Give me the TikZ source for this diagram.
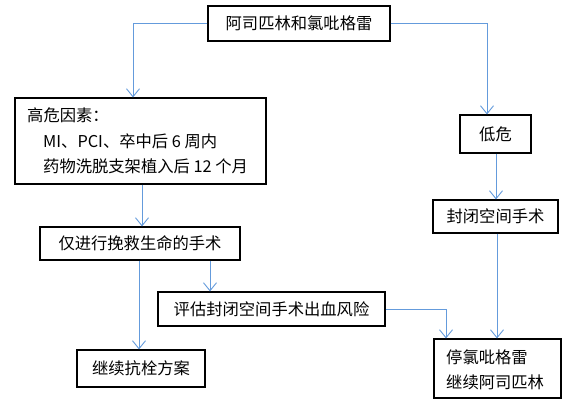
\documentclass[tikz,border=0pt]{standalone}
\usepackage{fontspec}
\newfontfamily\cjk{Noto Sans CJK SC}
\usetikzlibrary{arrows.meta}
\definecolor{conncol}{RGB}{100,155,220}
\tikzset{
  box/.style={draw=black, line width=1.1pt, inner sep=0pt, fill=white},
  txt/.style={font=\cjk\fontsize{16.3}{19}\selectfont, inner sep=0pt},
  conn/.style={draw=conncol, line width=0.9pt, -{Straight Barb[length=8pt,width=13pt,line width=0.9pt]}}
}
\begin{document}
\begin{tikzpicture}[x=1pt,y=-1pt]
\useasboundingbox (0,0) rectangle (583,402);
% boxes
\node[box, minimum width=182pt, minimum height=35pt] (top) at (299,23.5) {};
\node[txt] (toptxt) at (top.center) {阿司匹林和氯吡格雷};
\node[box, minimum width=251pt, minimum height=86pt] (high) at (140.5,141) {};
\node[txt, anchor=west] (h1) at (27,115) {高危因素：};
\node[txt, anchor=west] (h2) at (43,141) {MI、PCI、卒中后 6 周内};
\node[txt, anchor=west] (h3) at (43,166) {药物洗脱支架植入后 12 个月};
\node[box, minimum width=71pt, minimum height=38pt] (low) at (495.5,134) {};
\node[txt] (lowtxt) at (low.center) {低危};
\node[box, minimum width=125pt, minimum height=33pt] (close) at (495.5,216.5) {};
\node[txt] (closetxt) at (close.center) {封闭空间手术};
\node[box, minimum width=200pt, minimum height=33pt] (save) at (140,243.5) {};
\node[txt] (savetxt) at (save.center) {仅进行挽救生命的手术};
\node[box, minimum width=227pt, minimum height=34pt] (eval) at (271.5,309) {};
\node[txt] (evaltxt) at (eval.center) {评估封闭空间手术出血风险};
\node[box, minimum width=128pt, minimum height=37pt] (cont) at (141,368.5) {};
\node[txt] (conttxt) at (cont.center) {继续抗栓方案};
\node[box, minimum width=127pt, minimum height=59pt] (stop) at (497.5,368.5) {};
\node[txt, anchor=west] (s1) at (446,357) {停氯吡格雷};
\node[txt, anchor=west] (s2) at (446,382) {继续阿司匹林};
% connectors
\draw[conn] (top.west) -| (133,0 |- high.north);
\draw[conn] (top.east) -| (487,0 |- low.north);
\draw[conn] (496,0 |- low.south) -- (496,0 |- close.north);
\draw[conn] (142,0 |- high.south) -- (142,0 |- save.north);
\draw[conn] (139,0 |- save.south) -- (139,0 |- cont.north);
\draw[conn] (210,0 |- save.south) -- (210,0 |- eval.north);
\draw[conn] (eval.east) -| (446,0 |- stop.north);
\draw[conn] (497,0 |- close.south) -- (497,0 |- stop.north);
\end{tikzpicture}
\end{document}
